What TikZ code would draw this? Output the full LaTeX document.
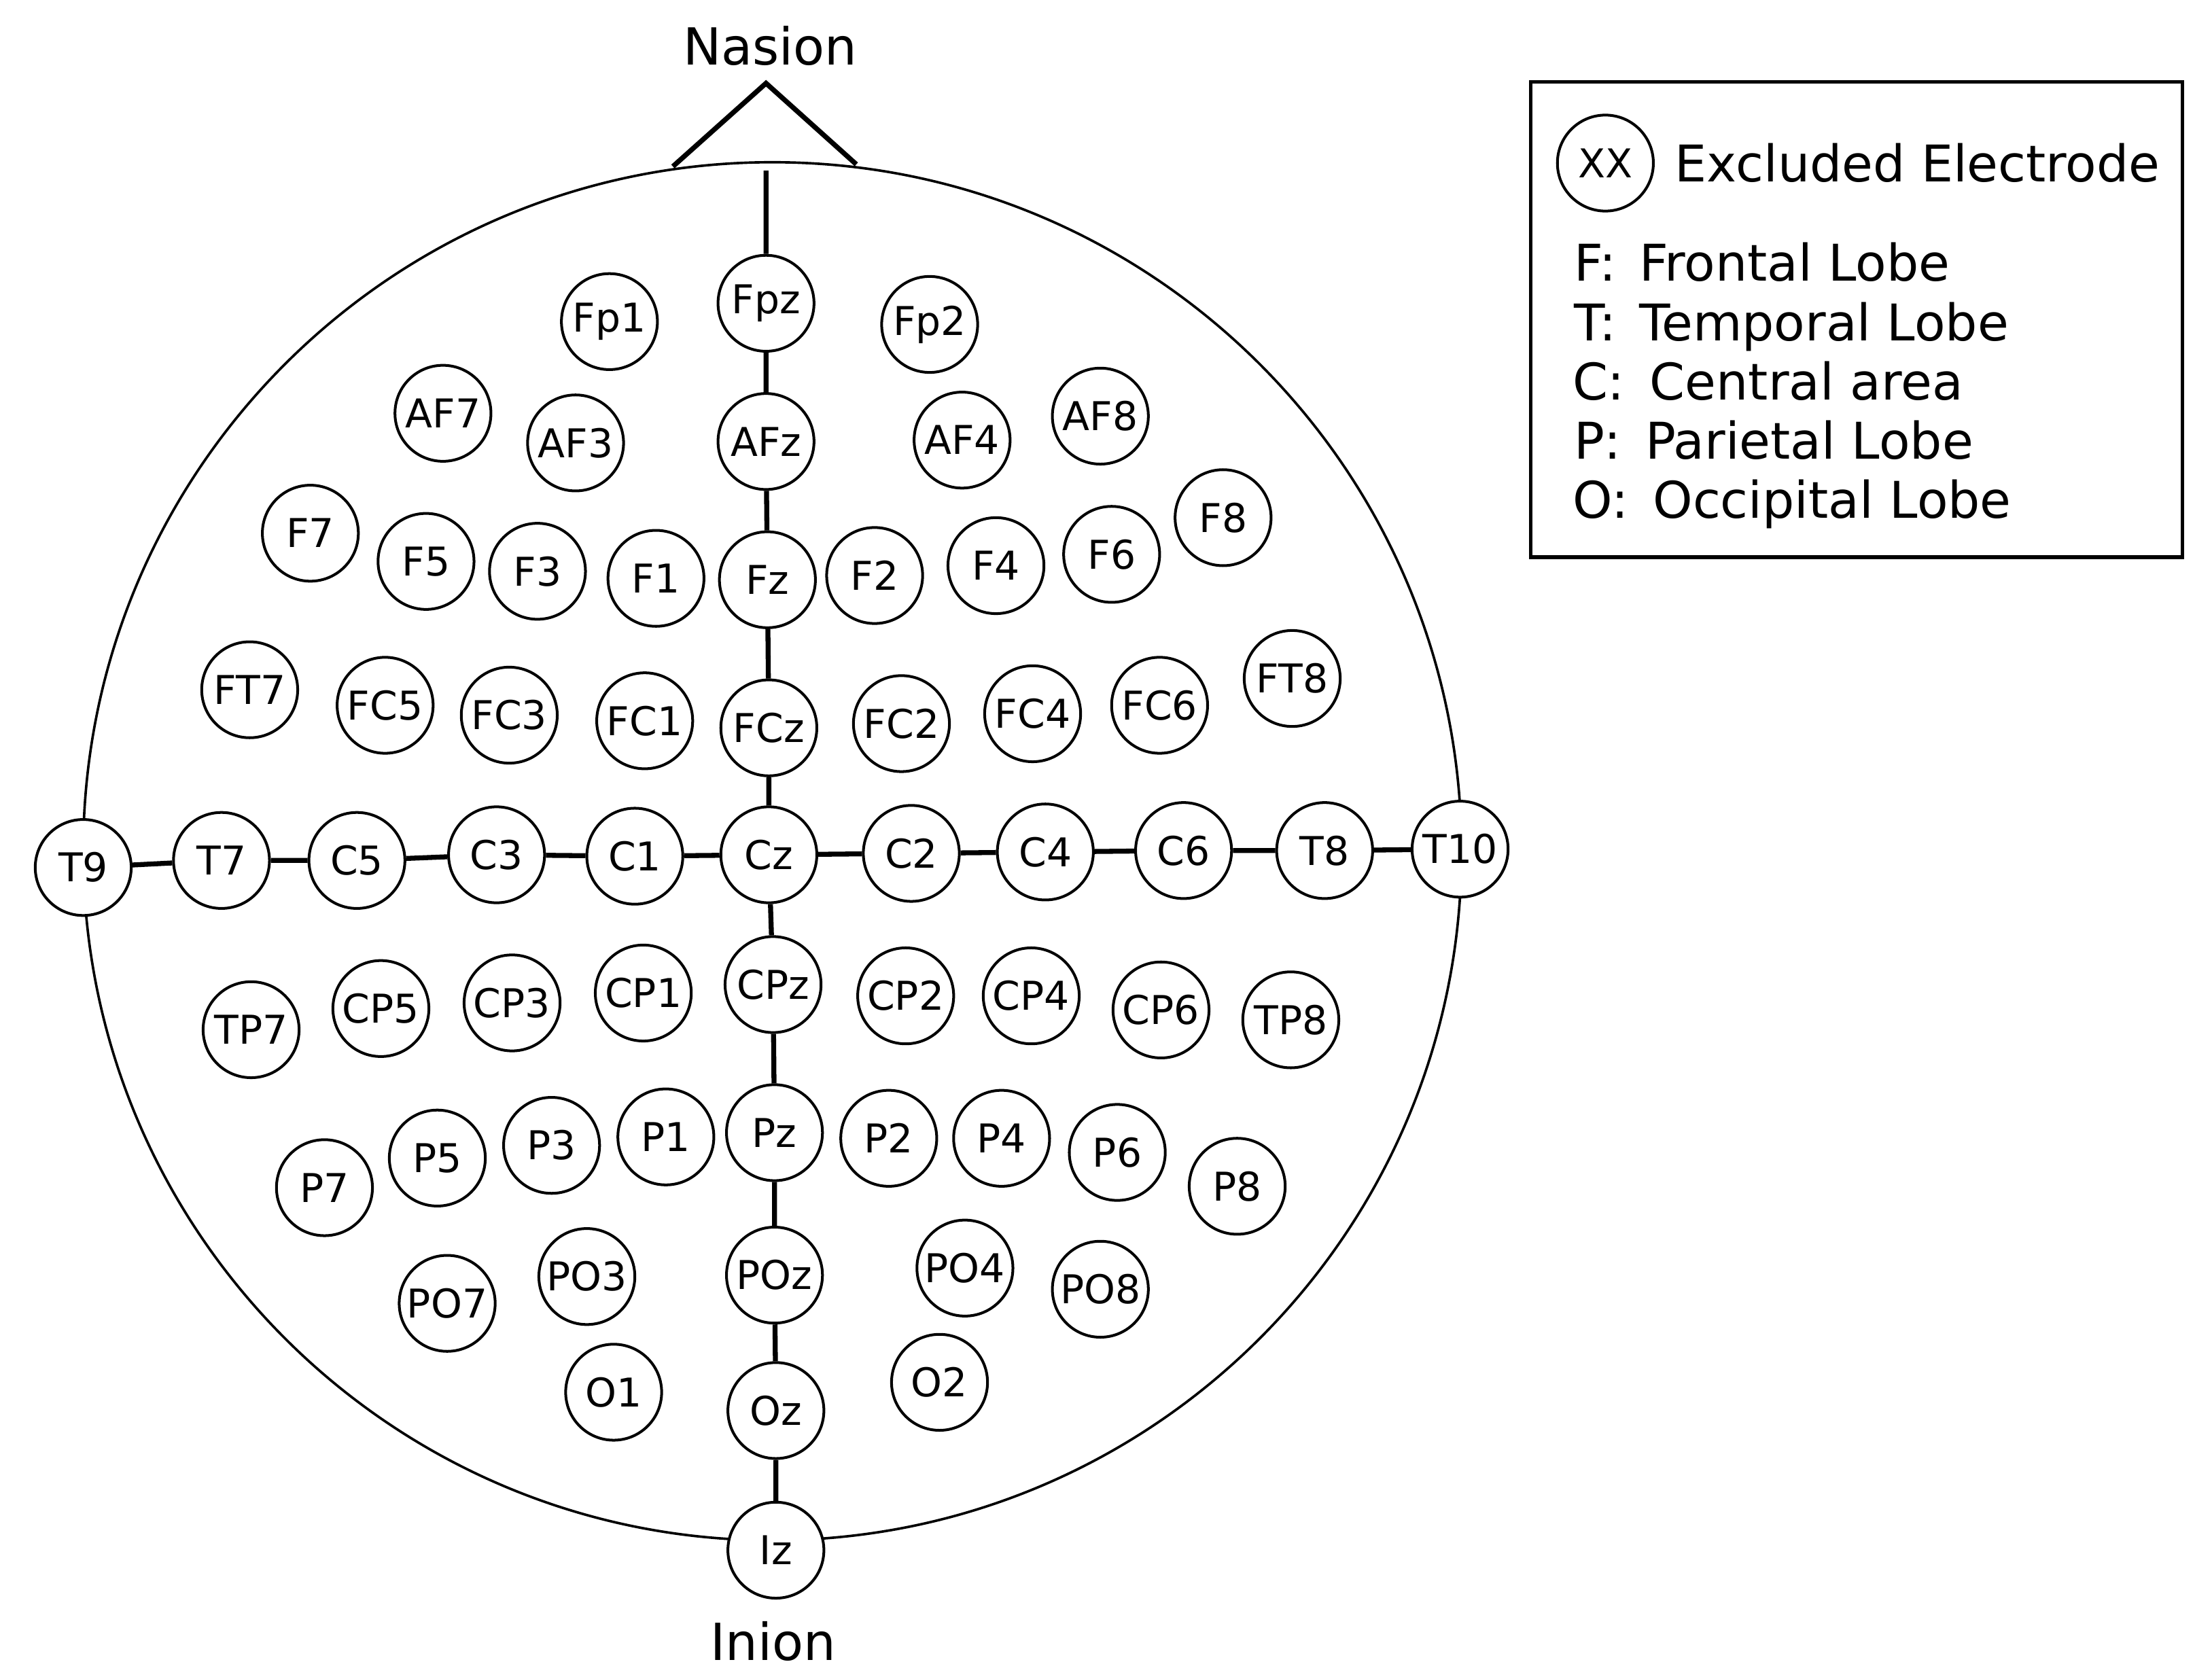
\documentclass[tikz,border=0pt]{standalone}
\usepackage{fontspec}
\setmainfont{DejaVu Sans}
\usepackage{tikz}
\usetikzlibrary{positioning}
\tikzset{
  elec/.style={circle, draw, line width=0.55pt, fill=white, inner sep=0pt,
               minimum size=0.68cm, font=\fontsize{8}{9.6}\selectfont},
  link/.style={line width=1pt},
  head/.style={line width=0.5pt},
  landmark/.style={anchor=base, inner sep=0pt, font=\fontsize{10.3}{12}\selectfont},
  lobe/.style={anchor=base west, inner sep=0pt, font=\fontsize{10.2}{12}\selectfont},
}

\begin{document}
\begin{tikzpicture}[x=0.01cm, y=-0.01cm]
  \useasboundingbox (0,0) rectangle (1568,1190);
  % head outline and nose
  \draw[head] (547.5,603.5) circle [radius=488.5];
  \coordinate (nasL) at (477,118);
  \coordinate (nasTip) at (543,59);
  \coordinate (nasR) at (607,116.5);
  \coordinate (nasTop) at (543,121);
  \draw[link] (nasL) -- (nasTip) -- (nasR);
  \node[landmark] (nasion) at (546,46) {Nasion};
  \node[landmark] (inion) at (548,1177) {Inion};
  % frontal
  \node[elec] (Fp1) at (432,228) {Fp1};
  \node[elec] (Fpz) at (543,215) {Fpz};
  \node[elec] (Fp2) at (659,230) {Fp2};
  \node[elec] (AF7) at (314,293) {AF7};
  \node[elec] (AF3) at (408,314) {AF3};
  \node[elec] (AFz) at (543,313) {AFz};
  \node[elec] (AF4) at (682,312) {AF4};
  \node[elec] (AF8) at (780,295) {AF8};
  \node[elec] (F7) at (220,378) {F7};
  \node[elec] (F5) at (302,398) {F5};
  \node[elec] (F3) at (381,405) {F3};
  \node[elec] (F1) at (465,410) {F1};
  \node[elec] (Fz) at (544,411) {Fz};
  \node[elec] (F2) at (620,408) {F2};
  \node[elec] (F4) at (706,401) {F4};
  \node[elec] (F6) at (788,393) {F6};
  \node[elec] (F8) at (867,367) {F8};
  \node[elec] (FT7) at (177,489) {FT7};
  \node[elec] (FC5) at (273,500) {FC5};
  \node[elec] (FC3) at (361,507) {FC3};
  \node[elec] (FC1) at (457,511) {FC1};
  \node[elec] (FCz) at (545,516) {FCz};
  \node[elec] (FC2) at (639,513) {FC2};
  \node[elec] (FC4) at (732,506) {FC4};
  \node[elec] (FC6) at (822,500) {FC6};
  \node[elec] (FT8) at (916,481) {FT8};
  % central row
  \node[elec] (T9) at (59,615) {T9};
  \node[elec] (T7) at (157,610) {T7};
  \node[elec] (C5) at (253,610) {C5};
  \node[elec] (C3) at (352,606) {C3};
  \node[elec] (C1) at (450,607) {C1};
  \node[elec] (Cz) at (545,606) {Cz};
  \node[elec] (C2) at (646,605) {C2};
  \node[elec] (C4) at (741,604) {C4};
  \node[elec] (C6) at (839,603) {C6};
  \node[elec] (T8) at (939,603) {T8};
  \node[elec] (T10) at (1035,602) {T10};
  % parietal and occipital
  \node[elec] (TP7) at (178,730) {TP7};
  \node[elec] (CP5) at (270,715) {CP5};
  \node[elec] (CP3) at (363,711) {CP3};
  \node[elec] (CP1) at (456,704) {CP1};
  \node[elec] (CPz) at (548,698) {CPz};
  \node[elec] (CP2) at (642,706) {CP2};
  \node[elec] (CP4) at (731,706) {CP4};
  \node[elec] (CP6) at (823,716) {CP6};
  \node[elec] (TP8) at (915,723) {TP8};
  \node[elec] (P7) at (230,842) {P7};
  \node[elec] (P5) at (310,821) {P5};
  \node[elec] (P3) at (391,812) {P3};
  \node[elec] (P1) at (472,806) {P1};
  \node[elec] (Pz) at (549,803) {Pz};
  \node[elec] (P2) at (630,807) {P2};
  \node[elec] (P4) at (710,807) {P4};
  \node[elec] (P6) at (792,817) {P6};
  \node[elec] (P8) at (877,841) {P8};
  \node[elec] (PO7) at (317,924) {PO7};
  \node[elec] (PO3) at (416,905) {PO3};
  \node[elec] (POz) at (549,904) {POz};
  \node[elec] (PO4) at (684,899) {PO4};
  \node[elec] (PO8) at (780,914) {PO8};
  \node[elec] (O1) at (435,987) {O1};
  \node[elec] (Oz) at (550,1000) {Oz};
  \node[elec] (O2) at (666,980) {O2};
  \node[elec] (Iz) at (550,1099) {Iz};
  % midlines
  \draw[link] (nasTop) -- (Fpz) -- (AFz) -- (Fz) -- (FCz) -- (Cz) -- (CPz) -- (Pz) -- (POz) -- (Oz) -- (Iz);
  \draw[link] (T9) -- (T7) -- (C5) -- (C3) -- (C1) -- (Cz) -- (C2) -- (C4) -- (C6) -- (T8) -- (T10);
  % legend
  \draw[line width=0.7pt] (1085,58) rectangle (1547,395);
  \node[elec] (xx) at (1138,115.6) {XX};
  \node[inner sep=0pt, right=0.135cm of xx, font=\fontsize{10.2}{12}\selectfont] (excl) {Excluded Electrode};
  \node[lobe] (lobeF) at (1115,199.4) {F:\hspace{1.4pt} Frontal Lobe};
  \node[lobe] (lobeT) at (1115,241.5) {T:\hspace{1.4pt} Temporal Lobe};
  \node[lobe] (lobeC) at (1114,283.5) {C:\hspace{1.8pt} Central area};
  \node[lobe] (lobeP) at (1115,325.3) {P:\hspace{1.6pt} Parietal Lobe};
  \node[lobe] (lobeO) at (1114,367.3) {O:\hspace{1.7pt} Occipital Lobe};
\end{tikzpicture}
\end{document}
